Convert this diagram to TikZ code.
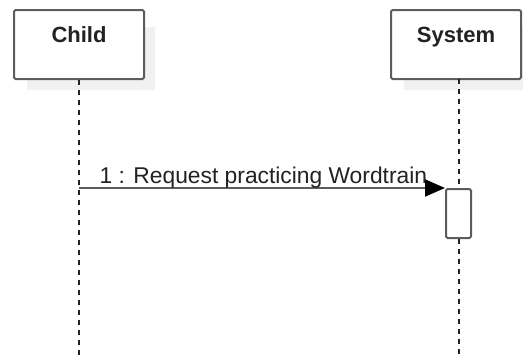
\documentclass[tikz,border=0pt]{standalone}
\usepackage{fontspec}
\setmainfont{Liberation Sans}
\usetikzlibrary{arrows.meta}
\definecolor{framegray}{HTML}{5C5C5C}
\definecolor{shadowgray}{HTML}{F1F1F1}
\definecolor{inkgray}{HTML}{222222}
\tikzset{
  objbox/.style={draw=framegray, fill=white, line width=2pt, rounded corners=1.5pt,
    minimum width=130pt, minimum height=69pt, inner sep=0pt,
    text height=16pt, text depth=21pt, text=inkgray,
    font=\fontsize{22}{26}\selectfont\bfseries},
  boxshadow/.style={fill=shadowgray, draw=none},
  lifeline/.style={draw=inkgray, line width=1.4pt, dash pattern=on 5pt off 5pt},
  actbox/.style={draw=framegray, fill=white, line width=2pt, rounded corners=1.5pt,
    minimum width=25pt, minimum height=49pt, inner sep=0pt},
  msg/.style={draw=framegray, line width=2pt,
    -{Triangle[length=20pt,width=17pt,color=black,fill=black]}},
  msglabel/.style={inner sep=0pt, text=inkgray, font=\fontsize{22.8}{26}\selectfont}
}
\begin{document}
\begin{tikzpicture}[x=1pt, y=-1pt]
  \useasboundingbox (0,0) rectangle (523,359);
  % soft drop shadows behind the two object boxes
  \fill[boxshadow] (27,27) rectangle (155,90);
  \fill[boxshadow] (404,27) rectangle (523,90);
  % object boxes
  \node[objbox] (child) at (79,44.5) {Child};
  \node[objbox] (system) at (456,44.5) {System};
  % lifeline ends
  \coordinate (childend) at (child.south |- 0,359);
  \coordinate (systemend) at (459,359);
  \coordinate (systemtop) at (459,79);
  \draw[lifeline] (child.south) -- (childend);
  \draw[lifeline] (systemtop) -- (systemend);
  % activation bar on the System lifeline
  \node[actbox, anchor=north west] (act) at (445,188) {};
  % message
  \coordinate (msgstart) at (child.south |- act.north west);
  \draw[msg] (msgstart) -- (act.north west);
  \node[msglabel, anchor=base west] (msgtext) at (99.5,183) {1 : Request practicing Wordtrain};
\end{tikzpicture}
\end{document}
